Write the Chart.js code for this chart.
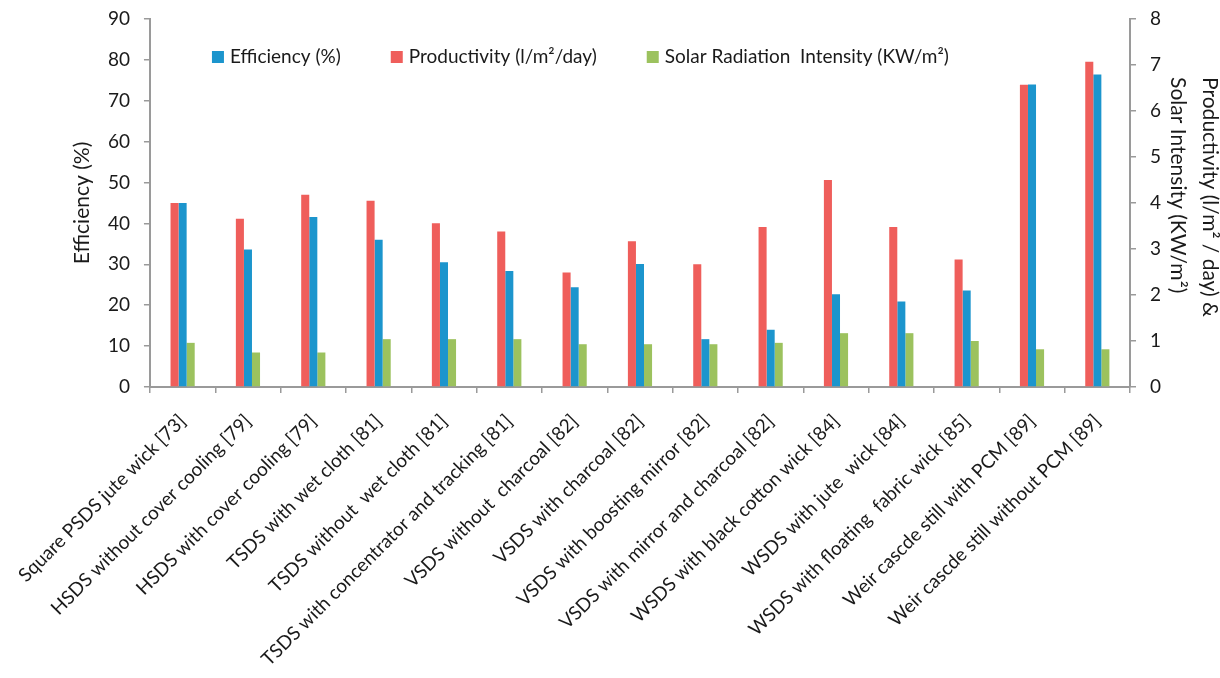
<!DOCTYPE html>
<html>
<head>
<meta charset="utf-8">
<script src="https://cdn.jsdelivr.net/npm/chart.js@4.4.0/dist/chart.umd.min.js"></script>
<style>
  body { margin: 0; background: #fff; }
</style>
</head>
<body>
<canvas id="myChart" width="1220" height="678"></canvas>
<script>
var categories = [
  "Square PSDS jute wick [73]",
  "HSDS without cover cooling [79]",
  "HSDS with cover cooling [79]",
  "TSDS with wet cloth [81]",
  "TSDS without  wet cloth [81]",
  "TSDS with concentrator and tracking [81]",
  "VSDS without  charcoal [82]",
  "VSDS with charcoal [82]",
  "VSDS with boosting mirror [82]",
  "VSDS with mirror and charcoal [82]",
  "WSDS with black cotton wick [84]",
  "WSDS with jute  wick [84]",
  "WSDS with floating  fabric wick [85]",
  "Weir cascde still with PCM [89]",
  "Weir cascde still without PCM [89]"
];
var efficiency = [45, 33.6, 41.6, 36.0, 30.5, 28.4, 24.4, 30.1, 11.7, 14.0, 22.7, 20.9, 23.6, 74, 76.4];
var productivity = [4.0, 3.66, 4.18, 4.05, 3.56, 3.38, 2.49, 3.17, 2.67, 3.48, 4.5, 3.48, 2.77, 6.57, 7.07];
var solar = [0.96, 0.75, 0.75, 1.04, 1.04, 1.04, 0.93, 0.93, 0.93, 0.96, 1.17, 1.17, 1.0, 0.82, 0.82];

var leftTicks = [0, 10, 20, 30, 40, 50, 60, 70, 80, 90];
var rightTicks = [0, 1, 2, 3, 4, 5, 6, 7, 8];
var rightTitle = ["Productivity (l/m\u00b2 / day) &", "Solar Intensity (KW/m\u00b2)"];

var RED = "#ef5e5b", BLUE = "#1c95cd", GREEN = "#9cc25e";
var FONT = "Lato";
var TXT = "#1a1a1a";
var AXIS = "#9a9a9a";

// legend drawn inside the plot, in Excel's order: Efficiency, Productivity, Solar
var legendOrder = [1, 0, 2];
var insideLegend = {
  id: "insideLegend",
  afterDraw: function(chart) {
    var ctx = chart.ctx, area = chart.chartArea;
    var x = area.left + 62, y = area.top + 38;
    ctx.save();
    ctx.font = "19px " + FONT;
    ctx.textBaseline = "middle";
    ctx.textAlign = "left";
    legendOrder.forEach(function(i) {
      var ds = chart.data.datasets[i];
      ctx.fillStyle = ds.backgroundColor;
      ctx.fillRect(x, y - 6, 12, 12);
      ctx.fillStyle = TXT;
      ctx.fillText(ds.label, x + 18, y);
      x += 18 + ctx.measureText(ds.label).width + 50;
    });
    ctx.restore();
  }
};

// right axis title: two rotated lines, left-aligned as a centred block (Excel style)
var rightAxisTitle = {
  id: "rightAxisTitle",
  afterDraw: function(chart) {
    var ctx = chart.ctx, area = chart.chartArea, sc = chart.scales.y2;
    ctx.save();
    ctx.font = "21px " + FONT;
    ctx.fillStyle = TXT;
    ctx.textBaseline = "middle";
    ctx.textAlign = "left";
    var w = Math.max.apply(null, rightTitle.map(function(t) { return ctx.measureText(t).width; }));
    var start = (area.top + area.bottom) / 2 - 6 - w / 2;
    rightTitle.forEach(function(t, i) {
      ctx.save();
      ctx.translate(sc.right - 10 - i * 32, start);
      ctx.rotate(Math.PI / 2);
      ctx.fillText(t, 0, 0);
      ctx.restore();
    });
    ctx.restore();
  }
};

// fixed axis box sizes so the plot area sits where the original one does
function fixY(width) {
  return function(s) { s.width = width; s.paddingTop = 0; s.paddingBottom = 0; };
}

new Chart("myChart", {
  type: "bar",
  data: {
    labels: categories,
    datasets: [
      { label: "Productivity (l/m\u00b2/day)", data: productivity, backgroundColor: RED, yAxisID: "y2" },
      { label: "Efficiency (%)", data: efficiency, backgroundColor: BLUE, yAxisID: "y" },
      { label: "Solar Radiation  Intensity (KW/m\u00b2)", data: solar, backgroundColor: GREEN, yAxisID: "y2" }
    ]
  },
  options: {
    responsive: false,
    animation: false,
    layout: { padding: { top: 19 } },
    datasets: { bar: { categoryPercentage: 0.37, barPercentage: 1.0 } },
    plugins: {
      legend: { display: false },
      tooltip: { enabled: false }
    },
    scales: {
      x: {
        afterFit: function(s) { s.height = 291; },
        grid: { drawOnChartArea: false, tickLength: 6, color: AXIS, lineWidth: 1.5 },
        border: { color: AXIS, width: 2 },
        ticks: {
          autoSkip: false, minRotation: 45, maxRotation: 45, padding: 17,
          color: TXT, font: { family: FONT, size: 19 }
        }
      },
      y: {
        position: "left",
        min: 0, max: 90,
        afterFit: fixY(148),
        afterBuildTicks: function(s) { s.ticks = leftTicks.map(function(v) { return { value: v }; }); },
        grid: { drawOnChartArea: false, tickLength: 6, color: AXIS, lineWidth: 1.5 },
        border: { color: AXIS, width: 2 },
        ticks: { padding: 14, color: TXT, font: { family: FONT, size: 19 } },
        title: {
          display: true, text: "Efficiency (%)", color: TXT,
          font: { family: FONT, size: 21 }, padding: { top: 68, bottom: 0 }
        }
      },
      y2: {
        position: "right",
        min: 0, max: 8,
        afterFit: fixY(90),
        afterBuildTicks: function(s) { s.ticks = rightTicks.map(function(v) { return { value: v }; }); },
        grid: { drawOnChartArea: false, tickLength: 6, color: AXIS, lineWidth: 1.5 },
        border: { color: AXIS, width: 2 },
        ticks: { padding: 14, color: TXT, font: { family: FONT, size: 19 } }
      }
    }
  },
  plugins: [insideLegend, rightAxisTitle]
});
</script>
</body>
</html>
